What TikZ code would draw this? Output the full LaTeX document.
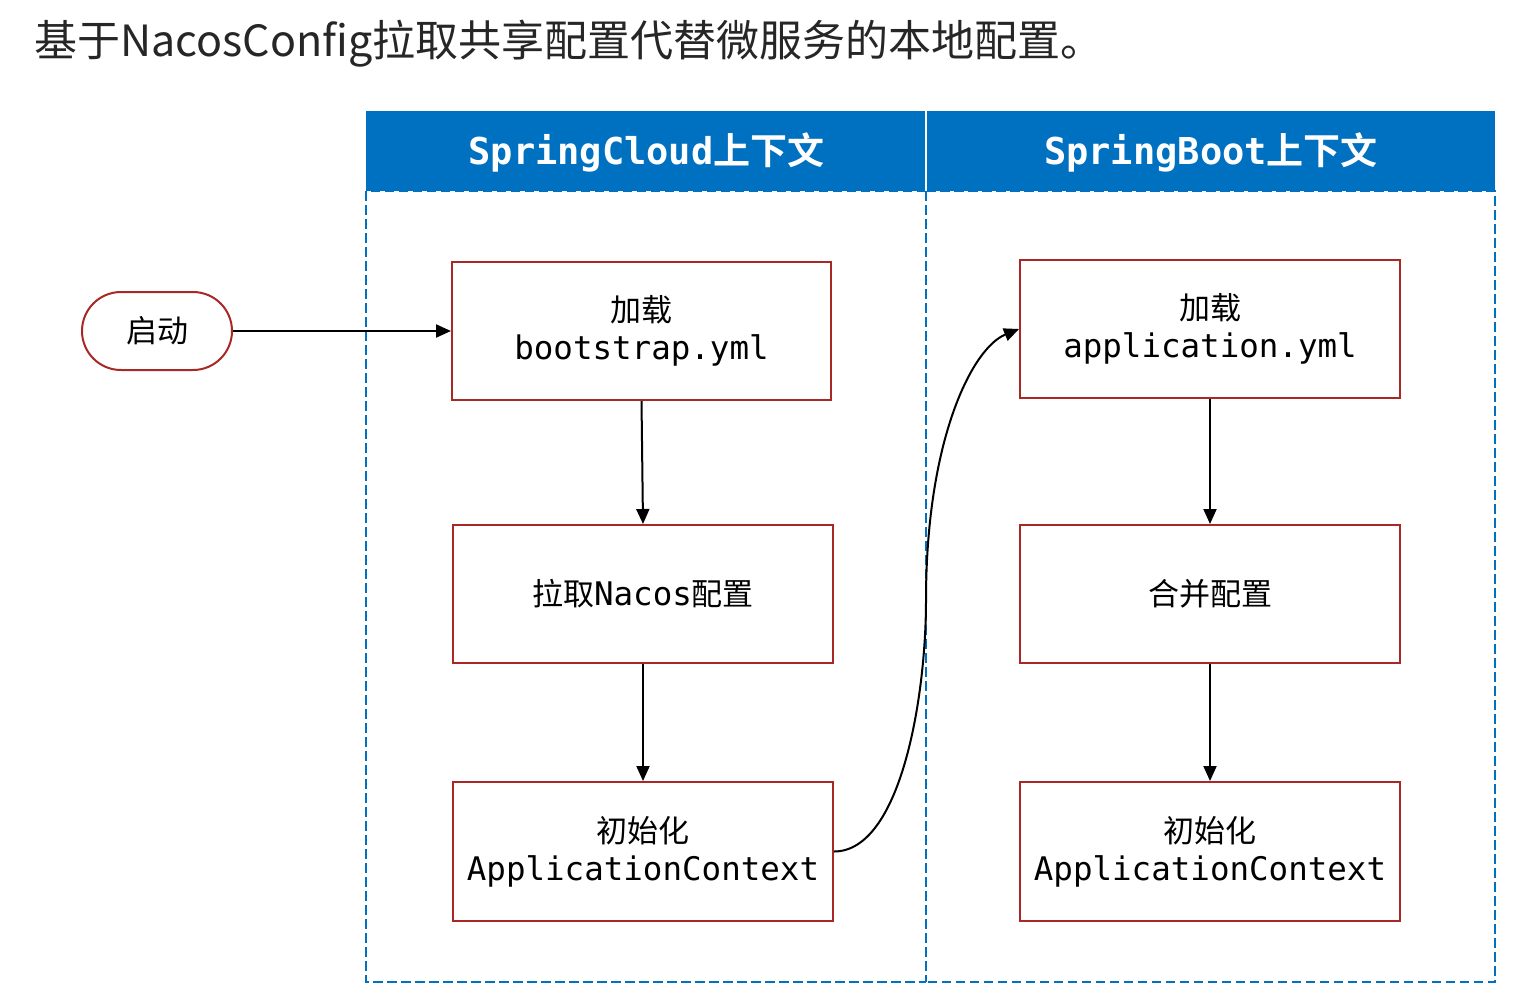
\documentclass[tikz,border=0pt]{standalone}
\usepackage{fontspec}
\usetikzlibrary{arrows.meta}
\newfontfamily\cjk{Noto Sans CJK SC}[BoldFont={Noto Sans CJK SC Bold}]
\newfontfamily\mono{DejaVu Sans Mono}
\definecolor{hdrblue}{RGB}{0,112,192}
\definecolor{boxred}{RGB}{168,40,38}
\definecolor{titlegray}{RGB}{38,38,38}
\tikzset{
  stepbox/.style={draw=boxred, line width=2pt, fill=white, minimum width=380pt, minimum height=138pt, align=center, inner sep=0pt, font=\fontsize{31}{38}\selectfont},
  startnode/.style={draw=boxred, line width=2pt, rounded corners=39pt, minimum width=150pt, minimum height=78pt, inner sep=0pt, font=\cjk\fontsize{31}{38}\selectfont},
  arr/.style={draw=black, line width=2pt, -{Triangle[length=15pt,width=13pt]}},
  lane/.style={draw=hdrblue, line width=2pt, dash pattern=on 9.5pt off 4.5pt},
  hdr/.style={fill=hdrblue, draw=none, text=white, inner sep=0pt, font=\bfseries\fontsize{37}{44}\selectfont},
}
\newcommand{\mt}[1]{{\mono\fontsize{32.5}{38}\selectfont #1}}
\begin{document}
\begin{tikzpicture}[x=1pt,y=-1pt]
\useasboundingbox (0,0) rectangle (1533,999);
% title
\node[anchor=base west, inner sep=0pt, text=titlegray, font=\cjk\fontsize{43}{50}\selectfont] (title) at (34,56) {基于NacosConfig拉取共享配置代替微服务的本地配置。};
% lanes
\draw[lane] (926,191) -- (366,191) -- (366,982) -- (926,982);
\draw[lane] (926,191) -- (1495,191) -- (1495,982) -- (926,982);
\draw[lane] (926,191) -- (926,982);
% headers
\fill[hdrblue] (366,111) rectangle (1495,191);
\draw[white, line width=2pt] (926,111) -- (926,191);
\node[hdr] (h1) at (646.5,152) {{\mono\bfseries SpringCloud}{\cjk\bfseries 上下文}};
\node[hdr] (h2) at (1211,152) {{\mono\bfseries SpringBoot}{\cjk\bfseries 上下文}};
% nodes
\node[startnode] (start) at (157,331) {启动};
\node[stepbox, minimum width=379pt] (b1) at (641.5,331) {{\cjk 加载}\\\mt{bootstrap.yml}};
\node[stepbox] (b2) at (643,594) {{\cjk 拉取}\mt{Nacos}{\cjk 配置}};
\node[stepbox, minimum height=139pt] (b3) at (643,851.5) {{\cjk 初始化}\\\mt{ApplicationContext}};
\node[stepbox] (b4) at (1210,329) {{\cjk 加载}\\\mt{application.yml}};
\node[stepbox] (b5) at (1210,594) {{\cjk 合并配置}};
\node[stepbox, minimum height=139pt] (b6) at (1210,851.5) {{\cjk 初始化}\\\mt{ApplicationContext}};
% connectors
\draw[arr] (start.east) -- (b1.west);
\draw[arr] (b1.south) -- (b2.north);
\draw[arr] (b2.south) -- (b3.north);
\draw[arr] (b4.south) -- (b5.north);
\draw[arr] (b5.south) -- (b6.north);
\draw[arr] (b3.east) .. controls (900,851.5) and (926,700) .. (926,600) .. controls (926,440) and (972,348) .. (b4.west);
\end{tikzpicture}
\end{document}
